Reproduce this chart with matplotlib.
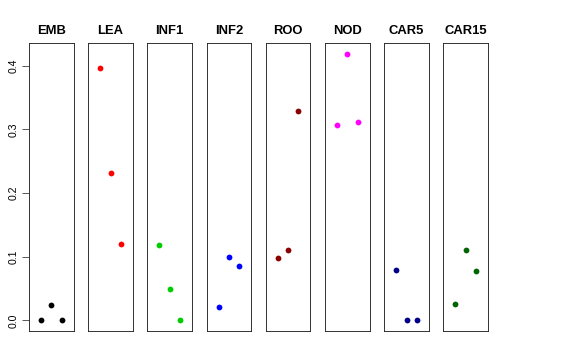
import matplotlib
matplotlib.use("Agg")
import matplotlib.pyplot as plt

categories = ["EMB", "LEA", "INF1", "INF2", "ROO", "NOD", "CAR5", "CAR15"]
values = {
    "EMB":   [0.0, 0.0245, 0.0],
    "LEA":   [0.3964, 0.2314, 0.1199],
    "INF1":  [0.1178, 0.0497, 0.0],
    "INF2":  [0.0209, 0.0990, 0.0853],
    "ROO":   [0.0974, 0.1110, 0.3288],
    "NOD":   [0.3073, 0.4189, 0.3115],
    "CAR5":  [0.0785, 0.0, 0.0],
    "CAR15": [0.0261, 0.1110, 0.0770],
}
colors = ["#000000", "#FF0000", "#00CD00", "#0000FF", "#8B0000", "#FF00FF", "#00008B", "#006400"]
yticks = [0.0, 0.1, 0.2, 0.3, 0.4]
ytick_labels = ["0.0", "0.1", "0.2", "0.3", "0.4"]

plt.rcParams['font.family'] = ['Liberation Sans', 'DejaVu Sans']

W, H = 576, 360
fig = plt.figure(figsize=(W / 72, H / 72), dpi=72)

lefts = [29, 88.2, 147.4, 206.6, 265.8, 325.0, 384.2, 443.4]
width = 44.6
top, bottom = 43, 331

ymin, ymax = 0.0, 0.4189
r = ymax - ymin
ylim = (ymin - 0.04 * r, ymax + 0.04 * r)

for i, cat in enumerate(categories):
    ax = fig.add_axes([lefts[i] / W, (H - bottom) / H, width / W, (bottom - top) / H])
    ys = values[cat]
    xs = list(range(1, len(ys) + 1))
    ax.plot(xs, ys, 'o', color=colors[i], markersize=5.8, markeredgewidth=0)
    ax.set_xlim(-0.16, 4.16)
    ax.set_ylim(*ylim)
    ax.set_xticks([])
    ax.set_title(cat, fontsize=13, fontweight='bold', pad=9)
    for s in ax.spines.values():
        s.set_color('#222222')
        s.set_linewidth(0.9)
    if i == 0:
        ax.set_yticks(yticks)
        ax.set_yticklabels(ytick_labels, rotation=90, va='center', fontsize=10.5)
        ax.tick_params(axis='y', length=7, width=0.8, pad=3, color='#333333')
    else:
        ax.set_yticks([])

fig.savefig("out.png", dpi=72)
